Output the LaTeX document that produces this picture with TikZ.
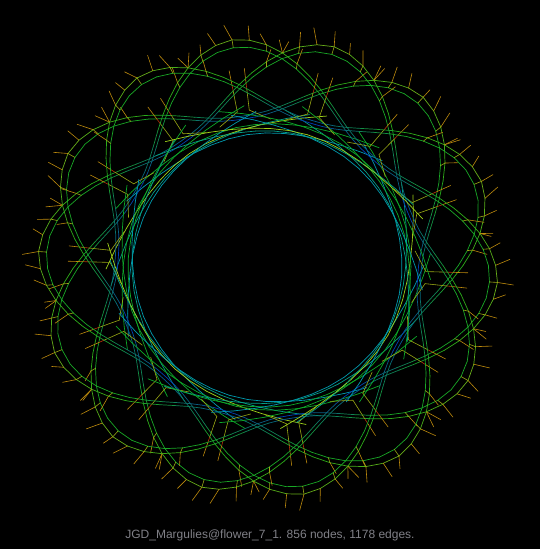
\documentclass[tikz,border=0pt]{standalone}
\usepackage{fontspec}
\setmainfont{Liberation Sans}
\pgfmathdeclarefunction{kprof}{1}{\pgfmathparse{150+36*(1-cos(180*((abs(#1)+0.01)/51.43)^1.15))}}
\pgfmathdeclarefunction{kgap}{1}{\pgfmathparse{3+5*(#1/51.43)^2}}
\definecolor{khair}{rgb}{0.74,0.54,0.05}
\definecolor{kstem}{rgb}{0.6,0.66,0.08}
\definecolor{kred}{rgb}{0.72,0.2,0.03}
\definecolor{kteal}{rgb}{0.0,0.6,0.68}
\definecolor{kgreen}{rgb}{0.05,0.66,0.16}
\definecolor{kyel}{rgb}{0.62,0.82,0.1}
\tikzset{strand/.style={line width=0.7pt},hairline/.style={line width=0.6pt}}
\begin{document}
\begin{tikzpicture}[x=1pt,y=1pt,line cap=round]
\fill[black](-268,-282)rectangle(272,267);
\foreach \e in {0,...,13}{
\pgfmathsetmacro{\krot}{99+\e*180/7}
\pgfmathtruncatemacro{\kpar}{mod(\e,2)}
\pgfmathtruncatemacro{\kpor}{mod(\e,4)}
\begin{scope}[rotate=\krot]
% inner band
\foreach \j in {-7,...,6}{
\pgfmathsetmacro{\kd}{8*\j}
\pgfmathsetmacro{\kdd}{8*\j+8}
\pgfmathsetmacro{\kq}{abs(\j/7)^3}
\pgfmathsetmacro{\kqq}{abs((\j+1)/7)^3}
\ifnum\kpar=0
\draw[strand,kteal](\kd:{134+22*\kq})--(\kdd:{134+22*\kqq});
\draw[strand,kgreen](\kd+4:{143+20*\kq})--(\kdd+4:{143+20*\kqq});
\else
\ifnum\kpor=1
\draw[strand,kyel](\kd:{138+24*\kq})--(\kdd:{138+24*\kqq});
\else
\draw[strand,kgreen](\kd:{140+24*\kq})--(\kdd:{140+24*\kqq});
\fi
\draw[strand,kteal!70!kgreen](\kd+6:{136+22*\kq})--(\kdd+6:{136+22*\kqq});
\fi
}
% long arc from tip to tip
\foreach \j in {0,...,23}{
\pgfmathsetmacro{\kd}{-51.43+\j*4.2857}
\pgfmathsetmacro{\kdd}{\kd+4.2857}
\pgfmathsetmacro{\ku}{abs(\kd+2.1429)/51.43}
\pgfmathsetmacro{\kw}{min(1,\ku/0.55)}
\pgfmathsetmacro{\kr}{0.1*\kw}
\pgfmathsetmacro{\kg}{0.2+0.46*\kw}
\pgfmathsetmacro{\kb}{0.75-0.6*\kw}
\definecolor{kinner}{rgb}{\kr,\kg,\kb}
\pgfmathsetmacro{\kr}{0.02+0.42*\ku*\ku}
\pgfmathsetmacro{\kg}{0.32+0.36*\kw}
\pgfmathsetmacro{\kb}{0.6-0.5*\kw}
\definecolor{kouter}{rgb}{\kr,\kg,\kb}
\pgfmathsetmacro{\krin}{kprof(\kd)}
\pgfmathsetmacro{\krinn}{kprof(\kdd)}
\pgfmathsetmacro{\krout}{\krin+kgap(\kd)}
\pgfmathsetmacro{\kroutt}{\krinn+kgap(\kdd)}
\draw[strand,kinner](\kd:\krin)--(\kdd:\krinn);
\draw[strand,kouter](\kd:\krout)--(\kdd:\kroutt);
\pgfmathtruncatemacro{\khas}{abs(\kd)>33?1:0}
\ifnum\khas=1
\pgfmathsetmacro{\kl}{10+6*abs(sin(37*\j+\e*53))}
\pgfmathsetmacro{\ktilt}{1.6*sin(71*\j+\e*29)}
\draw[hairline,khair](\kd:\krout)--(\kd+\ktilt:\krout+\kl);
\pgfmathtruncatemacro{\kodd}{mod(\j,2)}
\ifnum\kodd=0 \draw[hairline,kstem](\kd:\krin)--(\kd:\krout);\fi
\fi
}
% pendant pairs on the arcs
\foreach \s in {-1,1}{
\draw[hairline,kstem](\s*2.2:158)--(\s*2.2:180);
\draw[hairline,kstem](\s*2.2:158)--(\s*10:148);
\draw[hairline,kred](\s*2.2:180)--(\s*2.2:185);
\draw[hairline,khair](\s*2.2:185)--(\s*2.2:200);
}
\end{scope}
}
\node(kcaption)at(2,-268){\fontsize{12}{14}\selectfont\color[rgb]{0.5,0.5,0.53}JGD\_Margulies@flower\_7\_1. 856 nodes, 1178 edges.};
\end{tikzpicture}
\end{document}
